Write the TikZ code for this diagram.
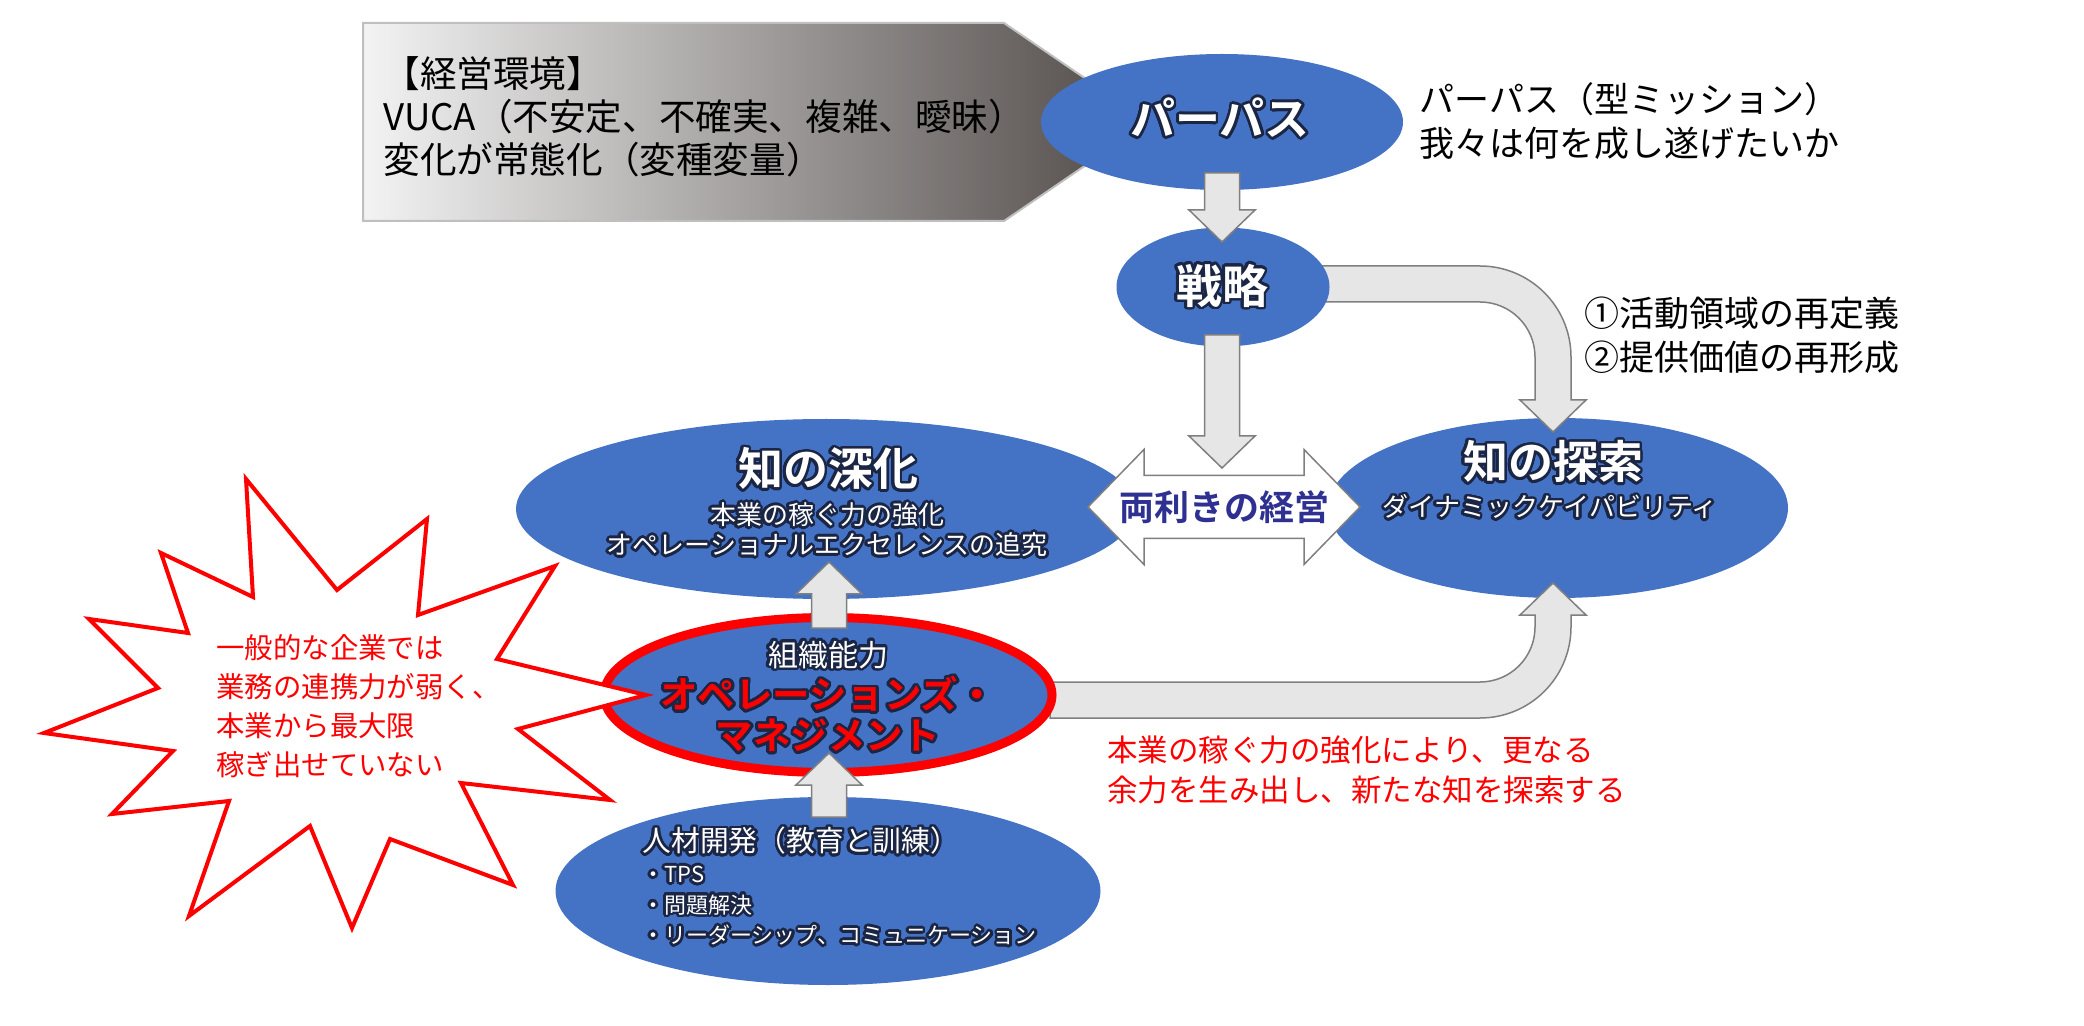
\documentclass[tikz,border=0pt]{standalone}
\usepackage{fontspec}
\setmainfont{Noto Sans CJK JP}[BoldFont={Noto Sans CJK JP Bold}]
\usepackage{contour}
\usetikzlibrary{shapes.geometric,calc}
\definecolor{bubbleblue}{HTML}{4472C4}
\definecolor{arrowfill}{HTML}{E6E6E6}
\definecolor{arrowline}{HTML}{7F7F7F}
\definecolor{ambinavy}{HTML}{2E3192}
\definecolor{glowdark}{HTML}{1B2544}
\definecolor{envleft}{HTML}{F3F3F3}
\definecolor{envmid}{HTML}{CFCDCD}
\definecolor{envright}{HTML}{4F4947}
\definecolor{envline}{HTML}{BFBFBF}
\definecolor{alertred}{HTML}{FF0000}
\contourlength{1.3pt}
\contournumber{32}
\newcommand\glowtext[1]{\contour{glowdark}{#1}}
\newcommand\blockarrow[2]{%
  \coordinate (hb) at ($(#2)!16pt!(#1)$);
  \draw[blockarrow] ($(#1)!8.75pt!90:(#2)$) -- ($(hb)!8.75pt!-90:(#1)$)
    -- ($(hb)!16.5pt!-90:(#1)$) -- (#2) -- ($(hb)!16.5pt!90:(#1)$)
    -- ($(hb)!8.75pt!90:(#1)$) -- ($(#1)!8.75pt!-90:(#2)$) -- cycle;}
\begin{document}
\begin{tikzpicture}[x=0.5pt, y=-0.5pt,
  bubble/.style={ellipse, fill=bubbleblue, inner sep=0pt},
  blockarrow/.style={fill=arrowfill, draw=arrowline, line width=0.75pt},
  lbl/.style={inner sep=0pt, align=left, anchor=west},
  title/.style={inner sep=0pt, text=white, font=\fontsize{22.5}{26}\selectfont\bfseries}]
\useasboundingbox (0,0) rectangle (2084,1026);
\shadedraw[left color=envleft, middle color=envmid, right color=envright, draw=envline, line width=1pt]
  (363,23) -- (1004,23) -- (1149,122) -- (1004,221) -- (363,221) -- cycle;
\node[lbl, font=\fontsize{18.3}{21.5}\selectfont] (env) at (383,117) {【経営環境】\\VUCA（不安定、不確実、複雑、曖昧）\\変化が常態化（変種変量）};
\node[bubble, minimum width=181pt, minimum height=68pt] (purpose) at (1222,122) {};
\node[bubble, minimum width=310pt, minimum height=90pt] (deepen) at (826,509) {};
\node[bubble, minimum width=230pt, minimum height=90pt] (explore) at (1558,508) {};
\coordinate (stratout) at (1320,284);
\draw[blockarrow] (stratout) ++(0,-18) -- ++(160,0) arc[start angle=-90, end angle=0, radius=91]
  -- ++(0,43) -- ++(15,0) -- ++(-33,32) -- ++(-33,-32) -- ++(15,0) -- ++(0,-43)
  arc[start angle=0, end angle=-90, radius=55] -- ++(-160,0) -- cycle;
\node[bubble, minimum width=106.5pt, minimum height=59.5pt] (strategy) at (1223,287) {};
\coordinate (a1s) at (1222,173); \coordinate (a1e) at (1222,242);
\blockarrow{a1s}{a1e}
\coordinate (a2s) at (1222,335); \coordinate (a2e) at (1222,468);
\blockarrow{a2s}{a2e}
\coordinate (ambi) at (1224,507);
\draw[fill=white, draw=arrowline, line width=0.75pt] (ambi) ++(-136,0) -- ++(56,-57.5) -- ++(0,26) -- ++(160,0)
  -- ++(0,-26) -- ++(56,57.5) -- ++(-56,57.5) -- ++(0,-26) -- ++(-160,0) -- ++(0,26) -- cycle;
\coordinate (opsout) at (1050,700);
\draw[blockarrow] (opsout) ++(0,18) -- ++(430,0) arc[start angle=90, end angle=0, radius=91]
  -- ++(0,-12) -- ++(15,0) -- ++(-33,-32) -- ++(-33,32) -- ++(15,0) -- ++(0,12)
  arc[start angle=0, end angle=90, radius=55] -- ++(-430,0) -- cycle;
\node[bubble, draw=alertred, line width=4.5pt, minimum width=224pt, minimum height=77.5pt] (ops) at (828,695) {};
\node[bubble, minimum width=272.5pt, minimum height=94pt] (talent) at (828,891) {};
\coordinate (a3s) at (829,628); \coordinate (a3e) at (829,562);
\blockarrow{a3s}{a3e}
\coordinate (a4s) at (829,817); \coordinate (a4e) at (829,753);
\blockarrow{a4s}{a4e}
\draw[alertred, line width=2pt, fill=white] (246,479) -- (337,590) -- (427,519) -- (418,615) -- (555,566)
  -- (497,659) -- (646,695) -- (518,729) -- (610,800) -- (461,783) -- (513,885) -- (390,839) -- (352,928)
  -- (310,826) -- (189,916) -- (229,801) -- (112,814) -- (173,751) -- (44,733) -- (158,688) -- (89,619)
  -- (188,633) -- (161,553) -- (253,597) -- cycle;
\node[title] (purposetitle) at (1220,119) {\glowtext{パーパス}};
\node[lbl, font=\fontsize{17.5}{22}\selectfont] (purposedesc) at (1419,121) {パーパス（型ミッション）\\我々は何を成し遂げたいか};
\node[title, font=\fontsize{23}{26}\selectfont\bfseries] (strattitle) at (1222,287) {\glowtext{戦略}};
\node[lbl, font=\fontsize{17.5}{22}\selectfont] (stratdesc) at (1584,335) {①活動領域の再定義\\②提供価値の再形成};
\node[title] (deeptitle) at (828,470) {\glowtext{知の深化}};
\node[inner sep=0pt, text=white, align=center, font=\fontsize{13}{15}\selectfont] (deepdesc) at (827,531) {\glowtext{本業の稼ぐ力の強化}\\\glowtext{オペレーショナルエクセレンスの追究}};
\node[title] (exploretitle) at (1553,463) {\glowtext{知の探索}};
\node[inner sep=0pt, text=white, font=\fontsize{13}{15}\selectfont] (exploredesc) at (1550,508) {\glowtext{ダイナミックケイパビリティ}};
\node[inner sep=0pt, text=ambinavy, font=\fontsize{17.5}{20}\selectfont\bfseries] (ambitext) at (ambi) {両利きの経営};
\node[inner sep=0pt, text=white, font=\fontsize{15}{18}\selectfont] (opslabel) at (828,656) {\glowtext{組織能力}};
\node[inner sep=0pt, text=alertred, align=center, font=\fontsize{18.7}{20.5}\selectfont\bfseries] (opstitle) at (828,715.5) {\glowtext{オペレーションズ・}\\\glowtext{マネジメント}};
\node[lbl, text=white, font=\fontsize{14.4}{17}\selectfont] (talenttitle) at (642,842) {\glowtext{人材開発（教育と訓練）}};
\node[lbl, text=white, font=\fontsize{11}{15.25}\selectfont] (talentlist) at (642,907) {\glowtext{・TPS}\\\glowtext{・問題解決}\\\glowtext{・リーダーシップ、コミュニケーション}};
\node[lbl, text=alertred, font=\fontsize{15.25}{20}\selectfont] (gaindesc) at (1107,770) {本業の稼ぐ力の強化により、更なる\\余力を生み出し、新たな知を探索する};
\node[lbl, text=alertred, font=\fontsize{14.2}{19.6}\selectfont] (bursttext) at (216,706) {一般的な企業では\\業務の連携力が弱く、\\本業から最大限\\稼ぎ出せていない};
\end{tikzpicture}
\end{document}
